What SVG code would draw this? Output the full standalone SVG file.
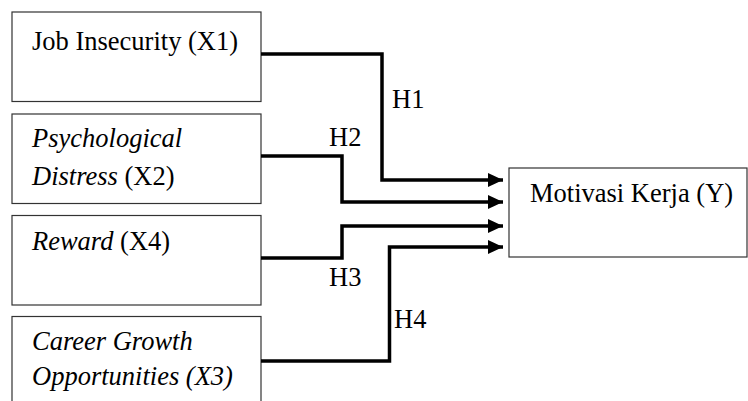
<svg xmlns="http://www.w3.org/2000/svg" width="748" height="401" viewBox="0 0 748 401">
<defs>
<style>
.box{fill:#fff;stroke:#333;stroke-width:1.2}
.t{font-family:'Liberation Serif','Times New Roman',serif;font-size:26.5px;fill:#000}
.i{font-style:italic}
.c{fill:none;stroke:#000;stroke-width:3.5}
</style>
<marker id="ah" markerUnits="userSpaceOnUse" markerWidth="16" markerHeight="16" viewBox="0 0 16 16" refX="15" refY="8" orient="auto">
<path d="M0,1 L15,8 L0,15 Z" fill="#000"/>
</marker>
</defs>
<rect width="748" height="401" fill="#fff"/>
<g id="x1">
<rect class="box" x="12" y="12" width="249" height="89.5"/>
<text class="t" x="32" y="50">Job Insecurity (X1)</text>
</g>
<g id="x2">
<rect class="box" x="12" y="114" width="249" height="89.5"/>
<text class="t" x="32" y="147"><tspan class="i">Psychological</tspan></text>
<text class="t" x="32" y="185"><tspan class="i">Distress</tspan> (X2)</text>
</g>
<g id="x4">
<rect class="box" x="12" y="215.5" width="249" height="89.5"/>
<text class="t" x="32" y="250"><tspan class="i">Reward</tspan> (X4)</text>
</g>
<g id="x3">
<rect class="box" x="12" y="316.5" width="249" height="110"/>
<text class="t i" x="32" y="350">Career Growth</text>
<text class="t i" x="32" y="385">Opportunities (X3)</text>
</g>
<g id="y">
<rect class="box" x="509" y="168" width="238" height="89"/>
<text class="t" x="530" y="202">Motivasi Kerja (Y)</text>
</g>
<g id="connectors">
<path class="c" d="M261,54 H382 V180 H503" marker-end="url(#ah)"/>
<path class="c" d="M261,156 H342 V202 H503" marker-end="url(#ah)"/>
<path class="c" d="M261,258 H342 V226 H503" marker-end="url(#ah)"/>
<path class="c" d="M261,361 H389.5 V247 H503" marker-end="url(#ah)"/>
<text class="t" x="392" y="108">H1</text>
<text class="t" x="329" y="146">H2</text>
<text class="t" x="329" y="286">H3</text>
<text class="t" x="394" y="328">H4</text>
</g>
</svg>
